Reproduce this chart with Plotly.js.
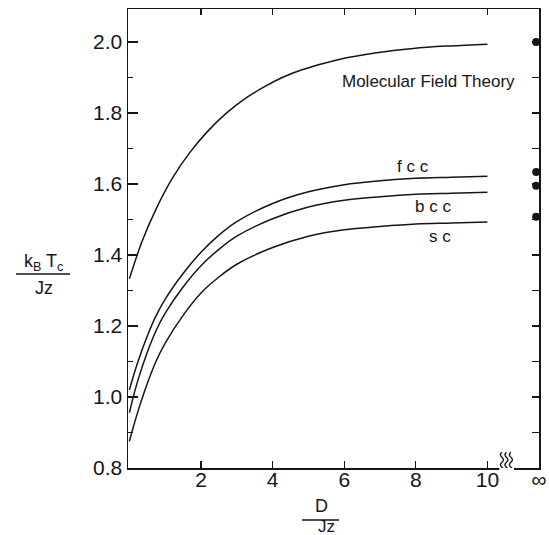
<!DOCTYPE html>
<html>
<head>
<meta charset="utf-8">
<script src="https://cdn.plot.ly/plotly-3.0.1.min.js"></script>
<style>html,body{margin:0;padding:0;background:#fff;}#chart{width:549px;height:535px;}</style>
</head>
<body>
<div id="chart"></div>
<script>
// D/Jz values and kB Tc / Jz values
const D_mft  = [0, 0.36, 0.77, 1.21, 1.69, 2.19, 2.70, 3.22, 3.75, 4.27, 4.80, 5.85, 6.90, 7.93, 8.95, 10.0];
const Tc_mft = [1.333, 1.440, 1.535, 1.618, 1.689, 1.749, 1.799, 1.840, 1.873, 1.900, 1.921, 1.951, 1.970, 1.982, 1.989, 1.994];

const D_lat  = [0, 0.1, 0.25, 0.5, 0.75, 1.0, 1.5, 2.0, 2.5, 3.0, 4.0, 5.0, 6.0, 7.0, 8.0, 9.0, 10.0];
const Tc_fcc = [1.020, 1.055, 1.103, 1.172, 1.230, 1.276, 1.348, 1.408, 1.456, 1.494, 1.545, 1.578, 1.598, 1.609, 1.616, 1.619, 1.622];
const Tc_bcc = [0.956, 0.997, 1.051, 1.126, 1.188, 1.236, 1.310, 1.370, 1.416, 1.453, 1.502, 1.535, 1.554, 1.564, 1.571, 1.574, 1.577];
const Tc_sc  = [0.875, 0.912, 0.963, 1.038, 1.102, 1.152, 1.230, 1.293, 1.338, 1.374, 1.421, 1.453, 1.471, 1.480, 1.487, 1.490, 1.493];

// limiting values at D/Jz = infinity (dots on right axis)
const Tc_inf = [2.0, 1.634, 1.595, 1.508];

const xTickVals = [2, 4, 6, 8, 10];
const xTickText = ['2', '4', '6', '8', '10'];
const infLabel = '\u221E';

const FONT = 'Liberation Sans, Arial, sans-serif';
const INK = '#161616';
const X_MAX = 11.44;
const INF_X = 11.36;
const YR = [0.8, 2.093];

const curveLine = {color: INK, width: 1.5, shape: 'spline', smoothing: 1};
const traces = [
  {x: D_mft, y: Tc_mft, mode: 'lines', line: curveLine, hoverinfo: 'skip'},
  {x: D_lat, y: Tc_fcc, mode: 'lines', line: curveLine, hoverinfo: 'skip'},
  {x: D_lat, y: Tc_bcc, mode: 'lines', line: curveLine, hoverinfo: 'skip'},
  {x: D_lat, y: Tc_sc,  mode: 'lines', line: curveLine, hoverinfo: 'skip'},
  {x: Tc_inf.map(() => INF_X), y: Tc_inf, mode: 'markers', xaxis: 'x', yaxis: 'y2',
   marker: {color: INK, size: 8}, cliponaxis: false, hoverinfo: 'skip'},
  {x: [0], y: [1], mode: 'markers', xaxis: 'x2', yaxis: 'y', marker: {opacity: 0}, hoverinfo: 'skip'}
];

function sq(dx) {
  return 'M' + dx + ',-10 Q' + (dx + 3) + ',-7.5 ' + dx + ',-5 Q' + (dx - 3) + ',-2.5 ' + dx + ',0 Q' +
    (dx + 3) + ',2.5 ' + dx + ',5 Q' + (dx - 3) + ',7.5 ' + dx + ',10';
}

const W = 411, H = 459, L = 128, T = 9;
function px(xp) { return (xp - L) / W; }
function py(yp) { return (T + H - yp) / H; }

function note(text, x, y, size, ref) {
  return {text: text, x: x, y: y, xref: ref, yref: ref, showarrow: false,
          xanchor: 'center', yanchor: 'middle', font: {family: FONT, size: size, color: INK}};
}

const layout = {
  width: 549, height: 535,
  margin: {l: 128, r: 10, t: 9, b: 67, pad: 0},
  paper_bgcolor: '#fff', plot_bgcolor: '#fff',
  showlegend: false,
  font: {family: FONT, color: INK},
  xaxis: {
    range: [-0.039, X_MAX], showline: true, linewidth: 1.5, linecolor: INK,
    ticks: 'inside', ticklen: 7, tickwidth: 1.3, tickcolor: INK,
    tickmode: 'array', tickvals: xTickVals.concat([X_MAX]), ticktext: xTickText.concat([infLabel]),
    tickfont: {family: FONT, size: 21, color: INK}, ticklabelstandoff: -8,
    showgrid: false, zeroline: false
  },
  xaxis2: {
    overlaying: 'x', side: 'top', anchor: 'y', range: [-0.039, X_MAX],
    showline: true, linewidth: 1.5, linecolor: INK,
    ticks: 'inside', ticklen: 6, tickwidth: 1.3, tickcolor: INK,
    tickmode: 'array', tickvals: xTickVals, showticklabels: false,
    showgrid: false, zeroline: false
  },
  yaxis: {
    range: YR, showline: true, linewidth: 1.5, linecolor: INK,
    ticks: 'inside', ticklen: 10, tickwidth: 1.3, tickcolor: INK,
    tickmode: 'linear', tick0: 0.8, dtick: 0.2, tickformat: '.1f',
    minor: {ticks: 'inside', ticklen: 5, tickwidth: 1.3, tickcolor: INK, tick0: 0.8, dtick: 0.1},
    tickfont: {family: FONT, size: 21, color: INK},
    showgrid: false, zeroline: false
  },
  yaxis2: {
    overlaying: 'y', side: 'right', anchor: 'x', range: YR,
    showline: true, linewidth: 1.5, linecolor: INK,
    ticks: 'inside', ticklen: 7, tickwidth: 1.3, tickcolor: INK,
    tickmode: 'linear', tick0: 0.8, dtick: 0.1, showticklabels: false,
    showgrid: false, zeroline: false
  },
  shapes: [
    {type: 'rect', xref: 'x', yref: 'paper', x0: 10.33, x1: 10.74, y0: -0.012, y1: 0.012,
     fillcolor: '#fff', line: {width: 0}, layer: 'above'},
    {type: 'path', xref: 'x', yref: 'y', xsizemode: 'pixel', ysizemode: 'pixel',
     xanchor: 10.53, yanchor: 0.816, path: sq(-4.5) + ' ' + sq(0) + ' ' + sq(4.5),
     line: {color: INK, width: 1.4}, layer: 'above'},
    // y-title fraction bar
    {type: 'line', xref: 'paper', yref: 'paper', x0: px(16), x1: px(70), y0: py(274), y1: py(274),
     line: {color: INK, width: 1.3}},
    // x-title fraction bar
    {type: 'line', xref: 'paper', yref: 'paper', x0: px(302), x1: px(339), y0: py(520), y1: py(520),
     line: {color: INK, width: 1.3}}
  ],
  annotations: [
    Object.assign(note('Molecular Field Theory', 8.34, 1.889, 17, 'x'), {yref: 'y'}),
    Object.assign(note('f c c', 7.92, 1.650, 17, 'x'), {yref: 'y'}),
    Object.assign(note('b c c', 8.48, 1.537, 17, 'x'), {yref: 'y'}),
    Object.assign(note('s c', 8.68, 1.453, 17, 'x'), {yref: 'y'}),
    note('k<sub>B</sub> T<sub>c</sub>', px(43), py(262), 18, 'paper'),
    note('Jz', px(44), py(288), 18, 'paper'),
    note('D', px(321), py(506), 18, 'paper'),
    note('Jz', px(326), py(526), 17, 'paper')
  ]
};

Plotly.newPlot('chart', traces, layout, {staticPlot: true, displayModeBar: false});
</script>
</body>
</html>
